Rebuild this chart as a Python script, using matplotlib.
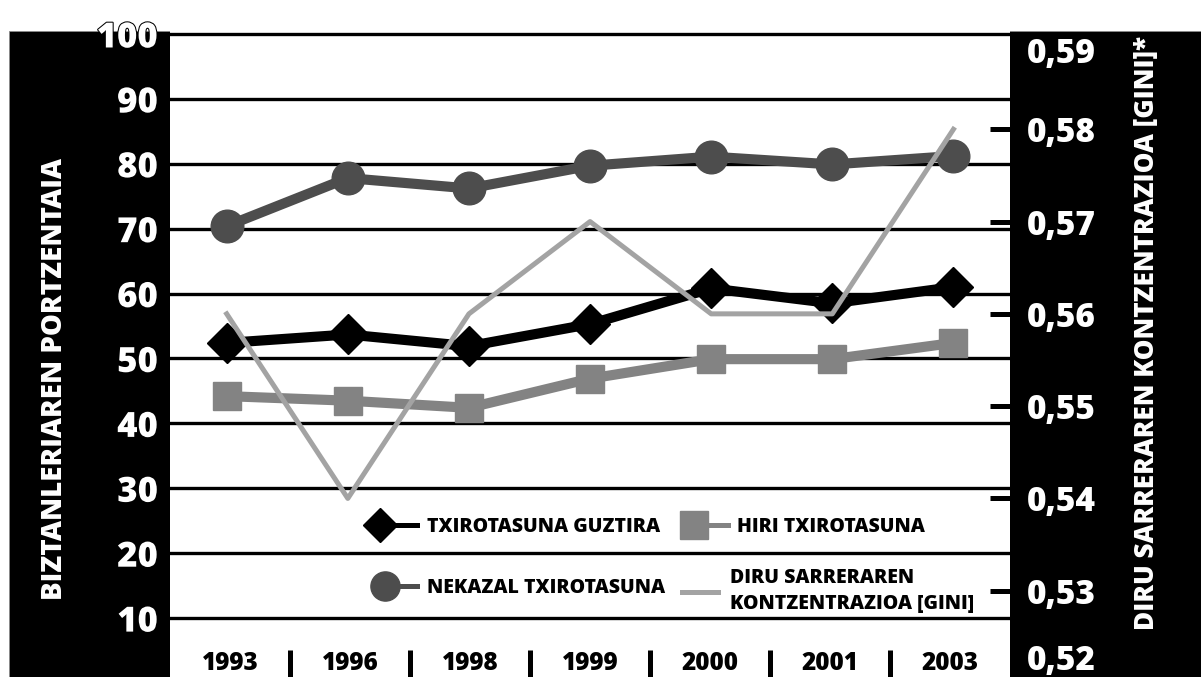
import numpy as np
import matplotlib
matplotlib.use('Agg')
import matplotlib.pyplot as plt
from matplotlib.legend import Legend
from matplotlib.legend_handler import HandlerLine2D
from matplotlib.patches import Rectangle
import matplotlib.patheffects as pe

# ---------------- data ----------------
years = ['1993', '1996', '1998', '1999', '2000', '2001', '2003']
total_poverty = [52.4, 53.7, 51.9, 55.3, 60.8, 58.5, 61.0]
urban_poverty = [44.2, 43.5, 42.4, 46.9, 49.9, 49.9, 52.4]
rural_poverty = [70.4, 77.8, 76.2, 79.7, 81.1, 79.9, 81.2]
gini_index = [0.560, 0.540, 0.560, 0.570, 0.560, 0.560, 0.580]

left_ticks = [10, 20, 30, 40, 50, 60, 70, 80, 90, 100]
right_ticks = [0.53, 0.54, 0.55, 0.56, 0.57, 0.58]
right_end_ticks = [0.52, 0.59]

lbl_total = 'TXIROTASUNA GUZTIRA'
lbl_urban = 'HIRI TXIROTASUNA'
lbl_rural = 'NEKAZAL TXIROTASUNA'
lbl_gini = 'DIRU SARRERAREN\nKONTZENTRAZIOA [GINI]'
ylabel_left = 'BIZTANLERIAREN PORTZENTAIA'
ylabel_right = 'DIRU SARRERAREN KONTZENTRAZIOA [GINI]*'

# ---------------- style ----------------
FONT = ['Open Sans', 'DejaVu Sans']
WEIGHT = 800
plt.rcParams['font.family'] = FONT
plt.rcParams['font.weight'] = WEIGHT

W, H = 1201, 677
fig = plt.figure(figsize=(W / 100, H / 100), dpi=100, facecolor='white')


def fx(px):
    return px / W


def fy(py):
    return 1 - py / H


def gini_fmt(v):
    return f'{v:.2f}'.replace('.', ',')


# black frame behind everything
fig.add_artist(Rectangle((fx(9), 0), 1 - fx(9), fy(30.5), transform=fig.transFigure,
                         facecolor='black', edgecolor='#8a8a8a', lw=0.6, zorder=-10))

AX_TOP, AX_BOT = 31, 683
ax = fig.add_axes([fx(170), 1 - AX_BOT / H, 840 / W, (AX_BOT - AX_TOP) / H])
ax.set_facecolor('white')
x = np.arange(len(years))
ax.set_xlim(-0.468, 6.467)
ax.set_ylim(0, 100.46)

c_total, c_urban, c_rural, c_gini = 'black', '#838383', '#4d4d4d', '#a3a3a3'

ln_rural, = ax.plot(x, rural_poverty, color=c_rural, lw=7.3, marker='o', ms=23.5, zorder=3)
ln_total, = ax.plot(x, total_poverty, color=c_total, lw=7.3, marker='D', ms=20.5, zorder=3)
ln_urban, = ax.plot(x, urban_poverty, color=c_urban, lw=7.3, marker='s', ms=20.5, zorder=3)

ax.set_axisbelow(True)
ax.set_yticks(left_ticks)
ax.yaxis.grid(True, color='black', lw=2.4)
ax.tick_params(axis='y', length=0, pad=8.6, labelsize=25, labelcolor='white')
ax.tick_params(axis='x', bottom=False, labelbottom=False, top=False, labeltop=False)
for t in ax.get_yticklabels():
    t.set_fontweight(WEIGHT)
    t.set_path_effects([pe.withStroke(linewidth=1.5, foreground='black')])

# right axis (Gini)
ax2 = ax.twinx()
ax2.set_ylim(0.52, 0.59065)
ln_gini, = ax2.plot(x, gini_index, color=c_gini, lw=3.6, zorder=4)
ax2.set_yticks(right_ticks, labels=[gini_fmt(v) for v in right_ticks])
ax2.tick_params(axis='y', which='major', direction='in', length=14.4, width=3.6,
                color='black', pad=12.2, labelsize=24, labelcolor='white')
for t in ax2.get_yticklabels():
    t.set_fontweight(WEIGHT)
# end labels of the right axis sit inside the frame (pulled inwards)
for v, dy in zip(right_end_ticks, (15.8, -12.2)):
    ax2.annotate(gini_fmt(v), xy=(1, v), xycoords=ax2.get_yaxis_transform(),
                 xytext=(12.2, dy), textcoords='offset points', ha='left', va='center',
                 color='white', fontsize=24, fontweight=WEIGHT, annotation_clip=False)

# category label axis
ax3 = ax.twiny()
ax3.set_xlim(0, len(years))
ax3.xaxis.set_ticks_position('bottom')
ax3.set_xticks(np.arange(len(years)) + 0.5, labels=years)
ax3.set_xticks(np.arange(1, len(years)), minor=True)
ax3.tick_params(axis='x', which='major', length=0, pad=-23.3, labelsize=17.5, labelcolor='black')
ax3.tick_params(axis='x', which='minor', direction='in', length=23.8, width=3.6, color='black')
for t in ax3.get_xticklabels():
    t.set_fontweight(WEIGHT)

for a in (ax, ax2, ax3):
    for s in a.spines.values():
        s.set_visible(False)


# legend: marker at left end of the handle line
class LeftMarkerHandler(HandlerLine2D):
    def __init__(self, lw=None, ms=None, **kw):
        super().__init__(**kw)
        self._lw, self._ms = lw, ms

    def create_artists(self, legend, orig_handle, xdescent, ydescent, width, height,
                       fontsize, trans):
        arts = super().create_artists(legend, orig_handle, xdescent, ydescent, width,
                                      height, fontsize, trans)
        for a in arts:
            if a.get_marker() not in (None, 'None', '', ' '):
                a.set_markevery([0])
            if self._lw is not None:
                a.set_linewidth(self._lw)
            if self._ms is not None:
                a.set_markersize(self._ms)
        return arts


LEG_FS = 14
LEG_PX = LEG_FS * 100 / 72


def add_leg(handle, label, xpx, ypx, hl_px, pad_px, lw, ms):
    leg = Legend(ax2, [handle], [label], loc='center left',
                 bbox_to_anchor=((xpx - 170) / 840, (AX_BOT - ypx) / (AX_BOT - AX_TOP)),
                 bbox_transform=ax2.transAxes, frameon=False, borderpad=0, borderaxespad=0,
                 handlelength=hl_px / LEG_PX, handletextpad=pad_px / LEG_PX, numpoints=1,
                 prop=dict(family=FONT, weight=WEIGHT, size=LEG_FS),
                 handler_map={handle: LeftMarkerHandler(lw=lw, ms=ms)})
    for t in leg.get_texts():
        t.set_color('black')
        t.set_linespacing(1.45)
    ax2.add_artist(leg)


add_leg(ln_total, lbl_total, 380, 527, 37, 10, 3.6, 17)
add_leg(ln_urban, lbl_urban, 693.5, 527, 34.5, 9, 3.6, 19.5)
add_leg(ln_rural, lbl_rural, 385, 588, 32, 10, 3.6, 21)
add_leg(ln_gini, lbl_gini, 682, 591, 36, 12, 3.6, None)

fig.text(fx(55), fy(379), ylabel_left, rotation=90, color='white', fontsize=20,
         fontweight=WEIGHT, ha='center', va='center')
fig.text(fx(1147.5), fy(333), ylabel_right, rotation=90, color='white', fontsize=18.8,
         fontweight=WEIGHT, ha='center', va='center')

fig.savefig('out.png', dpi=100, facecolor='white')
